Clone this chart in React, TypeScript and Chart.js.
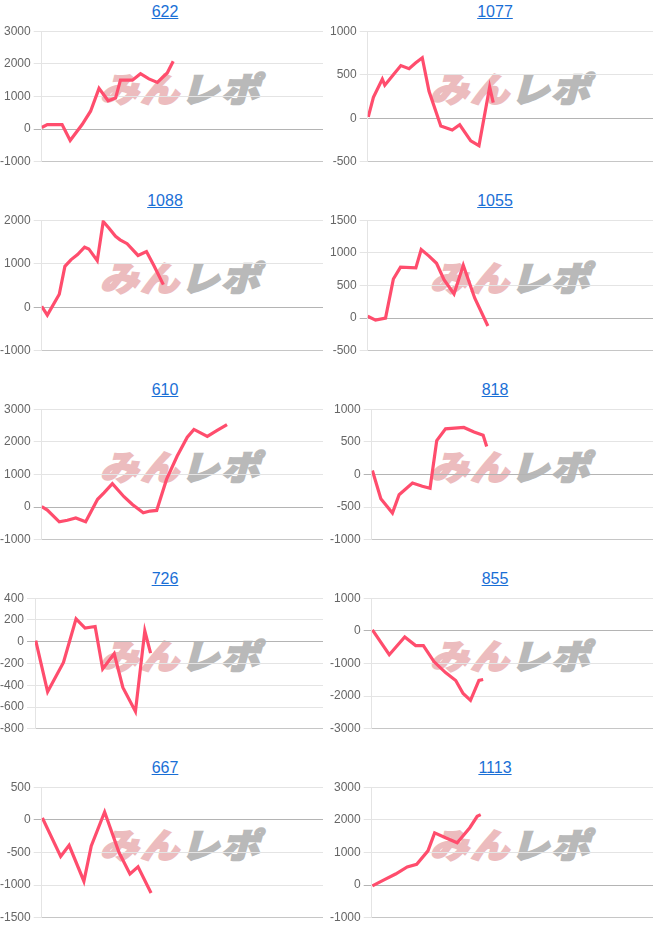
import React, { useEffect, useRef } from "react";
import { Chart, registerables } from "chart.js";

Chart.register(...registerables);

// games axis extent (x is hidden)
const X_MAX = 8000;

const TITLES = ["622", "1077", "1088", "1055", "610", "818", "726", "855", "667", "1113"];

const X_622 = [0, 160, 580, 810, 1150, 1390, 1630, 1890, 2100, 2240, 2580, 2810, 3050, 3290, 3570, 3740];
const Y_622 = [50, 140, 140, -350, 140, 550, 1250, 870, 950, 1500, 1500, 1700, 1540, 1430, 1720, 2080];

const X_1077 = [16, 160, 410, 480, 690, 930, 1160, 1340, 1530, 1720, 2050, 2370, 2580, 2890, 3120, 3420, 3520];
const Y_1077 = [15, 240, 450, 380, 485, 605, 570, 635, 695, 310, -90, -135, -75, -260, -315, 360, 180];

const X_1088 = [0, 160, 500, 660, 830, 1020, 1220, 1340, 1580, 1750, 1910, 2100, 2230, 2430, 2740, 2980, 3190, 3460];
const Y_1088 = [20, -180, 300, 940, 1090, 1210, 1380, 1340, 1070, 1970, 1820, 1630, 1550, 1460, 1190, 1280, 960, 520];

const X_1055 = [0, 220, 500, 720, 920, 1350, 1500, 1720, 1930, 2140, 2420, 2680, 3000, 3370];
const Y_1055 = [30, -30, 0, 600, 780, 770, 1050, 950, 840, 590, 370, 810, 310, -120];

const X_610 = [0, 160, 500, 730, 970, 1250, 1590, 1770, 2010, 2340, 2580, 2890, 3080, 3270, 3550, 3850, 4140, 4330, 4710, 4990, 5270];
const Y_610 = [20, -90, -450, -400, -330, -450, 240, 440, 720, 320, 80, -170, -120, -100, 850, 1560, 2140, 2380, 2170, 2350, 2530];

const X_818 = [20, 260, 590, 780, 1160, 1440, 1660, 1850, 2100, 2620, 2910, 3170, 3270];
const Y_818 = [60, -370, -590, -310, -130, -180, -210, 520, 700, 720, 650, 600, 430];

const X_726 = [20, 350, 790, 1140, 1390, 1670, 1880, 2200, 2440, 2790, 3050, 3210];
const Y_726 = [10, -460, -190, 210, 125, 140, -250, -110, -420, -640, 100, -105];

const X_855 = [20, 500, 940, 1250, 1470, 1770, 2100, 2390, 2600, 2810, 3050, 3170];
const Y_855 = [30, -730, -190, -450, -450, -940, -1280, -1520, -1920, -2130, -1520, -1490];

const X_667 = [20, 540, 780, 1200, 1410, 1790, 2200, 2510, 2740, 3110];
const Y_667 = [30, -560, -390, -940, -400, 120, -500, -830, -720, -1120];

const X_1113 = [20, 350, 680, 1010, 1280, 1600, 1790, 2100, 2430, 2790, 3000, 3100];
const Y_1113 = [-20, 160, 340, 560, 640, 1050, 1600, 1450, 1300, 1760, 2110, 2160];

const XS = [X_622, X_1077, X_1088, X_1055, X_610, X_818, X_726, X_855, X_667, X_1113];
const YS = [Y_622, Y_1077, Y_1088, Y_1055, Y_610, Y_818, Y_726, Y_855, Y_667, Y_1113];

const Y_MIN = [-1000, -500, -1000, -500, -1000, -1000, -800, -3000, -1500, -1000];
const Y_MAX = [3000, 1000, 2000, 1500, 3000, 1000, 400, 1000, 500, 3000];
const Y_STEP = [1000, 500, 1000, 500, 1000, 500, 200, 1000, 500, 1000];

const FONT = "Arial, 'Liberation Sans', Helvetica, sans-serif";

function SlumpChart({ idx }: { idx: number }) {
  const ref = useRef<HTMLCanvasElement | null>(null);
  useEffect(() => {
    if (!ref.current) return;
    const xs = XS[idx];
    const ys = YS[idx];
    const chart = new Chart(ref.current, {
      type: "line",
      data: {
        datasets: [
          {
            data: xs.map((x, i) => ({ x, y: ys[i] })),
            borderColor: "rgb(255, 77, 109)",
            borderWidth: 3.2,
            pointRadius: 0,
            tension: 0,
            fill: false,
          },
        ],
      },
      options: {
        animation: false,
        responsive: false,
        maintainAspectRatio: false,
        plugins: { legend: { display: false }, tooltip: { enabled: false }, title: { display: false } },
        layout: { padding: 0 },
        scales: {
          x: {
            type: "linear",
            min: 0,
            max: X_MAX,
            ticks: { display: false },
            grid: { display: false, drawTicks: false },
            border: { display: true, color: "#c6c6c6", width: 1 },
          },
          y: {
            min: Y_MIN[idx],
            max: Y_MAX[idx],
            ticks: {
              stepSize: Y_STEP[idx],
              color: "#666",
              font: { size: 12, family: FONT },
              callback: (v: any) => String(v),
            },
            grid: {
              color: (c: any) => (c.tick && c.tick.value === 0 ? "#b4b4b4" : "#e4e4e4"),
              tickLength: 8,
            },
            border: { display: true, color: "#e4e4e4" },
          },
        },
      },
    });
    return () => chart.destroy();
  }, [idx]);
  return (
    <canvas
      ref={ref}
      width={326}
      height={151}
      style={{ position: "absolute", left: -3, top: 21, width: 326, height: 151 }}
    />
  );
}

function Cell({ idx }: { idx: number }) {
  const col = idx % 2;
  const row = Math.floor(idx / 2);
  return (
    <div style={{ position: "absolute", left: col * 330, top: row * 189, width: 330, height: 189 }}>
      <div
        style={{
          position: "absolute",
          left: 104,
          top: 67,
          fontFamily: "'Noto Sans CJK JP', sans-serif",
          fontWeight: 900,
          fontSize: 34,
          lineHeight: "42px",
          letterSpacing: 2,
          transform: "scaleX(1.12) skewX(-14deg)",
          transformOrigin: "left center",
          whiteSpace: "nowrap",
        }}
      >
        <span style={{ color: "#ecbcbe", WebkitTextStroke: "2px #ecbcbe" } as any}>みん</span>
        <span style={{ color: "#b9b9b9", WebkitTextStroke: "2px #b9b9b9" } as any}>レポ</span>
      </div>
      <div
        style={{
          position: "absolute",
          left: 0,
          top: 2,
          width: 330,
          textAlign: "center",
          fontFamily: FONT,
          fontSize: 16,
          lineHeight: "19px",
        }}
      >
        <a href="#" style={{ color: "#1a6fd6", textDecoration: "underline" }}>
          {TITLES[idx]}
        </a>
      </div>
      <SlumpChart idx={idx} />
    </div>
  );
}

export default function App() {
  return (
    <div style={{ position: "absolute", left: 0, top: 0, width: 660, height: 945, background: "#fff" }}>
      {TITLES.map((_, i) => (
        <Cell key={i} idx={i} />
      ))}
    </div>
  );
}
